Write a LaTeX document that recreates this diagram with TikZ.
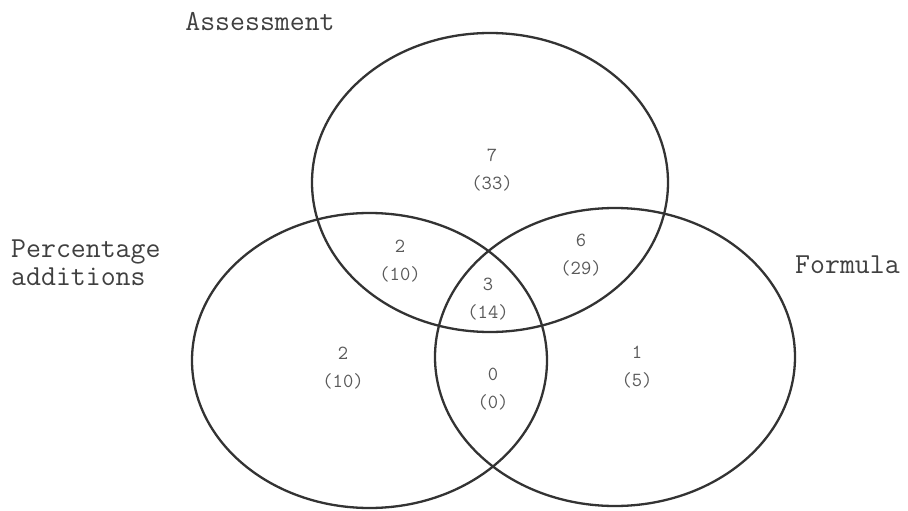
\documentclass[tikz,border=0pt]{standalone}
\usepackage{fontspec}
\begin{document}
\begin{tikzpicture}[x=1pt, y=-1pt,
  every node/.style={inner sep=0pt, text=black!75},
  setname/.style={font=\fontsize{29}{28}\ttfamily},
  count/.style={align=center, font=\fontsize{20}{28.5}\ttfamily, text=black!65},
  setline/.style={line width=2.3pt, draw=black!80}]
  \useasboundingbox (0,0) rectangle (908,511);
  % the three sets
  \draw[setline] (490,182.5) ellipse [x radius=178pt, y radius=149.5pt];
  \draw[setline] (369.5,360.5) ellipse [x radius=177.5pt, y radius=147.5pt];
  \draw[setline] (615,357) ellipse [x radius=180pt, y radius=149pt];
  % set names
  \node[setname, anchor=base] (assess) at (260,31) {Assessment};
  \node[setname, anchor=north west, align=left] (percent) at (11,239.5) {Percentage\\additions};
  \node[setname, anchor=base west] (formula) at (795,273) {Formula};
  % counts (percentages)
  \node[count] (nA) at (492,170) {7\\(33)};
  \node[count] (nAP) at (400,261) {2\\(10)};
  \node[count] (nAF) at (581,255) {6\\(29)};
  \node[count] (nAPF) at (488,299) {3\\(14)};
  \node[count] (nP) at (343,368) {2\\(10)};
  \node[count] (nPF) at (493,389) {0\\(0)};
  \node[count] (nF) at (637,367) {1\\(5)};
\end{tikzpicture}
\end{document}
